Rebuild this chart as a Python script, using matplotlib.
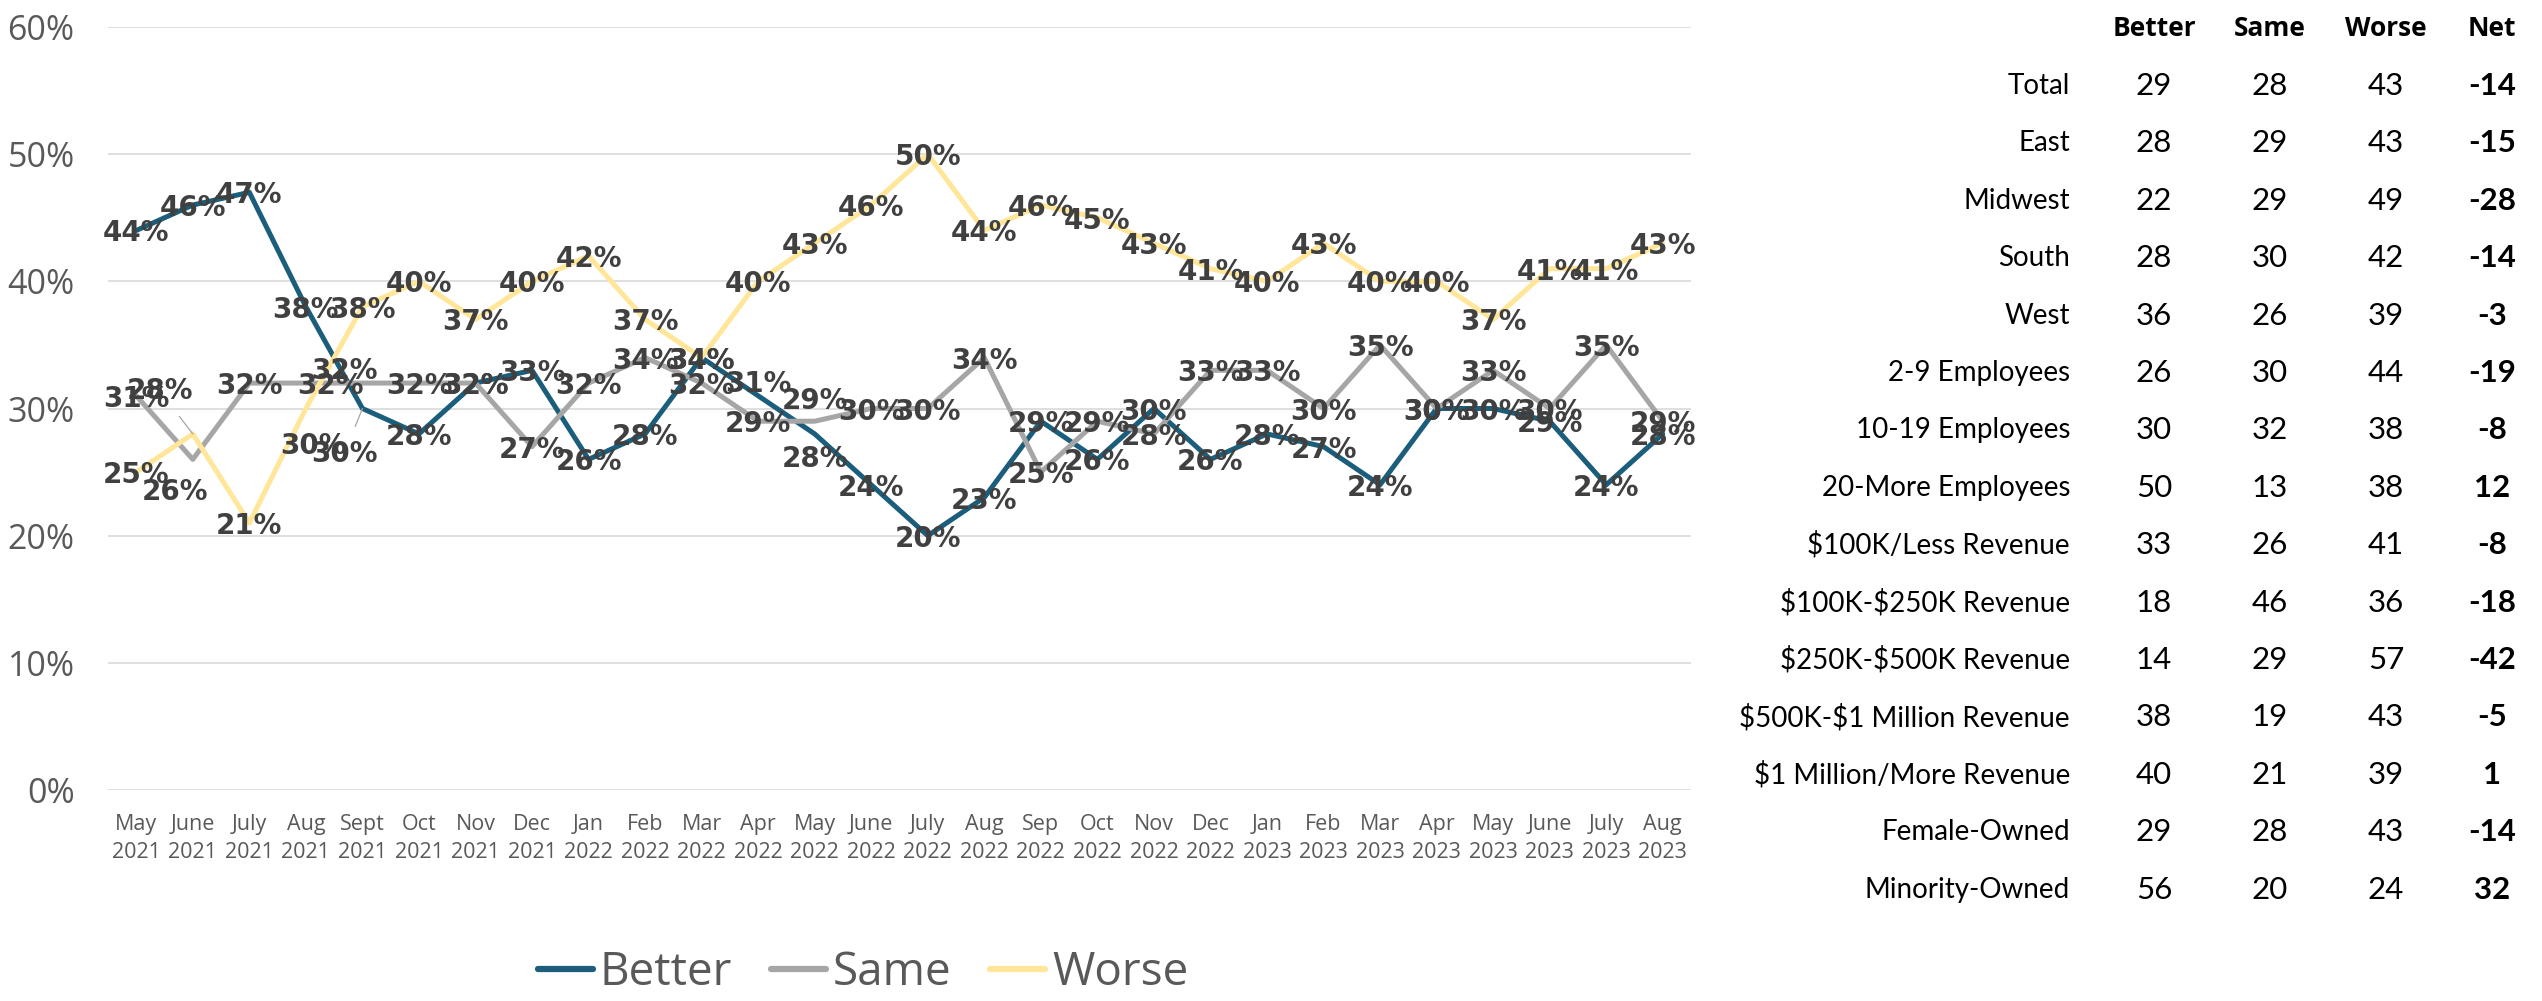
import matplotlib
matplotlib.use("Agg")
import matplotlib.pyplot as plt
from matplotlib.lines import Line2D

# monthly share of owners saying things are better / same / worse (%)
months = ["May\n2021", "June\n2021", "July\n2021", "Aug\n2021", "Sept\n2021", "Oct\n2021",
          "Nov\n2021", "Dec\n2021", "Jan\n2022", "Feb\n2022", "Mar\n2022", "Apr\n2022",
          "May\n2022", "June\n2022", "July\n2022", "Aug\n2022", "Sep\n2022", "Oct\n2022",
          "Nov\n2022", "Dec\n2022", "Jan\n2023", "Feb\n2023", "Mar\n2023", "Apr\n2023",
          "May\n2023", "June\n2023", "July\n2023", "Aug\n2023"]
better = [44, 46, 47, 38, 30, 28, 32, 33, 26, 28, 34, 31, 28, 24, 20, 23, 29, 26, 30, 26,
          28, 27, 24, 30, 30, 29, 24, 28]
same = [31, 26, 32, 32, 32, 32, 32, 27, 32, 34, 32, 29, 29, 30, 30, 34, 25, 29, 28, 33,
        33, 30, 35, 30, 33, 30, 35, 29]
worse = [25, 28, 21, 30, 38, 40, 37, 40, 42, 37, 34, 40, 43, 46, 50, 44, 46, 45, 43, 41,
         40, 43, 40, 40, 37, 41, 41, 43]

# breakdown table for the latest month
groups = ["Total", "East", "Midwest", "South", "West", "2-9 Employees", "10-19 Employees",
          "20-More Employees", "$100K/Less Revenue", "$100K-$250K Revenue",
          "$250K-$500K Revenue", "$500K-$1 Million Revenue", "$1 Million/More Revenue",
          "Female-Owned", "Minority-Owned"]
tbl_better = [29, 28, 22, 28, 36, 26, 30, 50, 33, 18, 14, 38, 40, 29, 56]
tbl_same = [28, 29, 29, 30, 26, 30, 32, 13, 26, 46, 29, 19, 21, 28, 20]
tbl_worse = [43, 43, 49, 42, 39, 44, 38, 38, 41, 36, 57, 43, 39, 43, 24]
tbl_net = [-14, -15, -28, -14, -3, -19, -8, 12, -8, -18, -42, -5, 1, -14, 32]

COLORS = {"Better": "#1B5E7B", "Same": "#A6A6A6", "Worse": "#FFE699"}
GREY_TXT = "#595959"
LABEL_TXT = "#404040"
TABLE_FONT = ["Lato", "DejaVu Sans"]

# hand-placed data labels: (series, index) -> (dx, dy) pixels, leader line flag
nudges = {
    ("Worse", 1): (-33, 46, True),
    ("Worse", 3): (8, -34, False),
    ("Better", 4): (-18, -42, True),
    ("Same", 1): (-18, -30, False),
    ("Same", 3): (25, 0, False),
    ("Same", 4): (-18, 15, False),
    ("Better", 11): (0, 15, False),
    ("Same", 12): (0, 23, False),
    ("Better", 12): (0, -22, False),
}

W, H = 2542, 1001
fig = plt.figure(figsize=(W / 100, H / 100), dpi=100)
ax = fig.add_axes([108 / W, 1 - 790 / H, (1691 - 108) / W, (790 - 27) / H])

xs = list(range(len(months)))
series = [("Better", better), ("Same", same), ("Worse", worse)]
for name, vals in series:
    ax.plot(xs, [v / 100 for v in vals], color=COLORS[name], lw=3.6,
            solid_joinstyle="round", solid_capstyle="round", zorder=2)

for name, vals in series:
    for i, v in enumerate(vals):
        dx, dy, leader = nudges.get((name, i), (0, 0, False))
        kw = {}
        if leader:
            kw["arrowprops"] = dict(arrowstyle="-", color="#A6A6A6", lw=0.9,
                                    shrinkA=8, shrinkB=0)
        ax.annotate(f"{v}%", (i, v / 100), xytext=(dx, dy), textcoords="offset pixels",
                    ha="center", va="center_baseline", fontsize=20, fontweight="bold",
                    color=LABEL_TXT, family="DejaVu Sans", zorder=5, **kw)

ax.set_xlim(-0.5, len(months) - 0.5)
ax.set_ylim(0, 0.6)
ax.set_yticks([i / 10 for i in range(7)])
ax.set_yticklabels([f"{i * 10}%" for i in range(7)], family="Open Sans", fontsize=24.5,
                   color=GREY_TXT)
ax.set_xticks(xs)
ax.set_xticklabels(months, family="Open Sans", fontsize=15.5, color=GREY_TXT,
                   linespacing=1.45)
ax.tick_params(axis="y", length=0, pad=24)
ax.tick_params(axis="x", length=0, pad=17)
ax.grid(axis="y", color="#D9D9D9", lw=1.2)
ax.set_axisbelow(True)
for s in ax.spines.values():
    s.set_visible(False)

handles = [Line2D([], [], color=COLORS[n], lw=4.5, solid_capstyle="round") for n, _ in series]
fig.legend(handles, [n for n, _ in series], loc="center", bbox_to_anchor=(863 / W, 1 - 973 / H),
           ncol=3, frameon=False, prop={"family": "Open Sans", "size": 33},
           handlelength=1.2, handletextpad=0.15, columnspacing=0.85, labelcolor=GREY_TXT)

# table to the right of the chart
col_x = [2154, 2270, 2386, 2492]
for cx, head in zip(col_x, ["Better", "Same", "Worse", "Net"]):
    fig.text(cx / W, 1 - 28 / H, head, ha="center", va="center", family="Open Sans",
             fontsize=19, fontweight="bold", color="black")

row_y0, row_step = 86, 57.4
for r, g in enumerate(groups):
    y = 1 - (row_y0 + r * row_step) / H
    fig.text(2070 / W, y, g, ha="right", va="center", family=TABLE_FONT, fontsize=20,
             color="black", parse_math=False)
    for cx, val in zip(col_x[:3], (tbl_better[r], tbl_same[r], tbl_worse[r])):
        fig.text(cx / W, y, str(val), ha="center", va="center", family=TABLE_FONT,
                 fontsize=22.5, color="black")
    fig.text(col_x[3] / W, y, str(tbl_net[r]), ha="center", va="center", family=TABLE_FONT,
             fontsize=22.5, fontweight="bold", color="black")

fig.savefig("out.png", dpi=100, facecolor="white")
